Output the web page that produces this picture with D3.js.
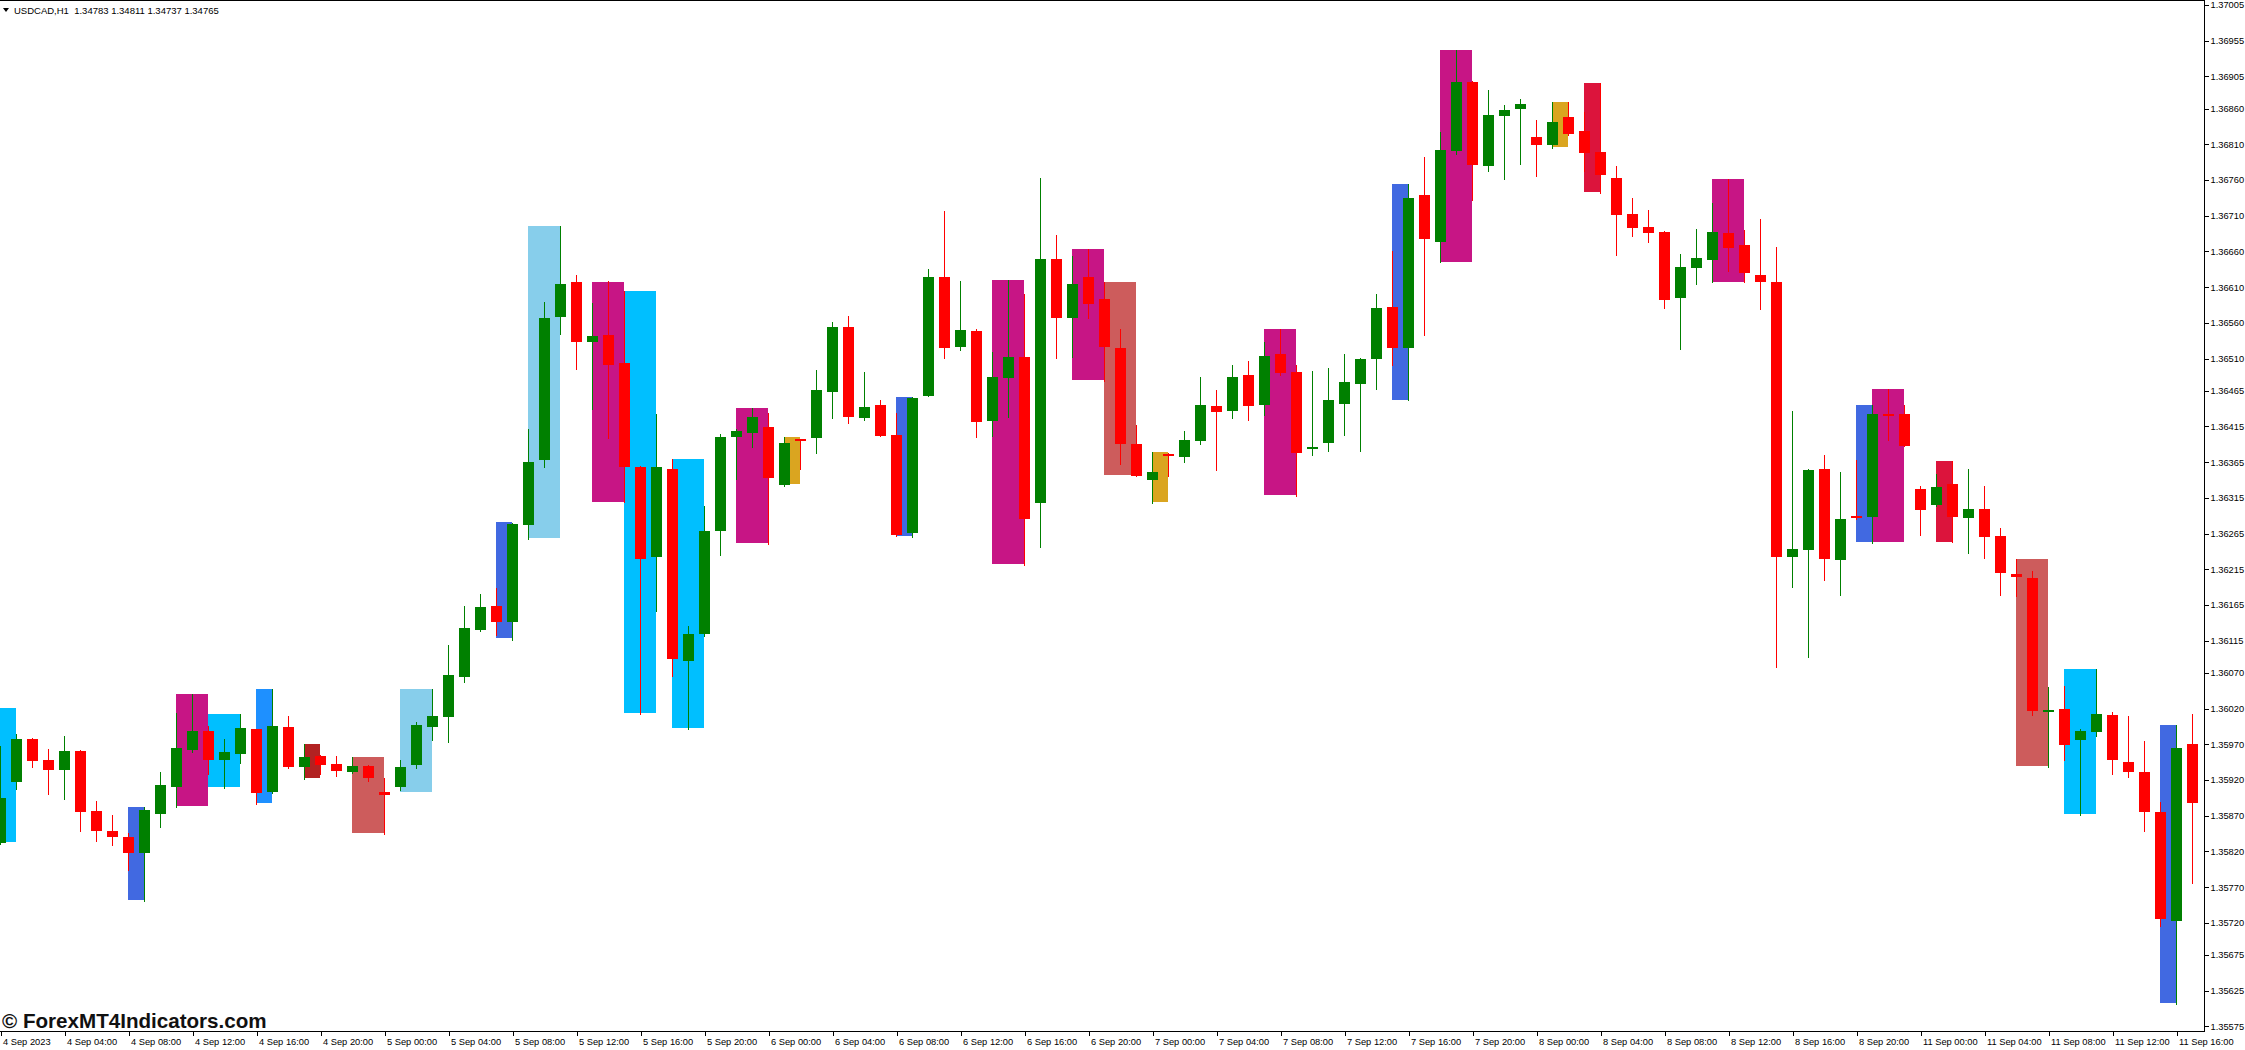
<!DOCTYPE html>
<html><head><meta charset="utf-8">
<script src="https://cdn.jsdelivr.net/npm/d3@7"></script>
<style>html,body{margin:0;padding:0;background:#fff;overflow:hidden}svg{display:block}</style>
</head><body>
<svg id="chart" width="2245" height="1050"></svg>
<script>
// ---- data (USDCAD H1, 4 Sep 2023 00:00 .. 11 Sep 2023 17:00) ----
const opens = [1.35832,1.35917,1.35977,1.35948,1.35934,1.35961,1.35877,1.35849,1.35840,1.35818,1.35872,1.35910,1.35962,1.35989,1.35948,1.35956,1.35991,1.35903,1.35994,1.35938,1.35954,1.35942,1.35931,1.35940,1.35903,1.35910,1.35941,1.35994,1.36008,1.36064,1.36130,1.36164,1.36141,1.36277,1.36368,1.36568,1.36617,1.36533,1.36543,1.36504,1.36358,1.36232,1.36355,1.36087,1.36124,1.36269,1.36400,1.36406,1.36414,1.36333,1.36397,1.36399,1.36463,1.36554,1.36427,1.36445,1.36403,1.36266,1.36458,1.36624,1.36526,1.36549,1.36423,1.36483,1.36512,1.36308,1.36649,1.36567,1.36624,1.36593,1.36525,1.36390,1.36340,1.36376,1.36372,1.36395,1.36444,1.36437,1.36487,1.36445,1.36516,1.36491,1.36385,1.36392,1.36446,1.36474,1.36509,1.36582,1.36525,1.36739,1.36673,1.36801,1.36897,1.36780,1.36850,1.36859,1.36820,1.36809,1.36848,1.36829,1.36799,1.36763,1.36712,1.36694,1.36687,1.36595,1.36637,1.36648,1.36686,1.36669,1.36627,1.36617,1.36232,1.36242,1.36355,1.36228,1.36290,1.36288,1.36432,1.36432,1.36327,1.36305,1.36334,1.36287,1.36299,1.36262,1.36208,1.36203,1.36015,1.36019,1.35976,1.35987,1.36011,1.35945,1.35931,1.35875,1.35723,1.35970];
const highs = [1.35968,1.35984,1.35979,1.35963,1.35982,1.35962,1.35891,1.35871,1.35846,1.35882,1.35931,1.36014,1.36040,1.35996,1.35977,1.36012,1.35992,1.36047,1.36010,1.35970,1.35955,1.35954,1.35952,1.35941,1.35923,1.35948,1.36001,1.36047,1.36109,1.36164,1.36180,1.36189,1.36280,1.36411,1.36589,1.36696,1.36627,1.36588,1.36618,1.36605,1.36359,1.36432,1.36369,1.36136,1.36304,1.36404,1.36411,1.36441,1.36434,1.36400,1.36398,1.36494,1.36561,1.36570,1.36491,1.36452,1.36434,1.36456,1.36635,1.36717,1.36619,1.36551,1.36519,1.36620,1.36600,1.36763,1.36683,1.36654,1.36663,1.36617,1.36551,1.36417,1.36379,1.36378,1.36409,1.36484,1.36466,1.36501,1.36507,1.36533,1.36551,1.36501,1.36493,1.36497,1.36516,1.36511,1.36600,1.36660,1.36754,1.36792,1.36827,1.36942,1.36899,1.36886,1.36865,1.36873,1.36844,1.36869,1.36869,1.36855,1.36896,1.36780,1.36735,1.36718,1.36689,1.36656,1.36691,1.36728,1.36761,1.36690,1.36705,1.36666,1.36437,1.36356,1.36375,1.36351,1.36368,1.36445,1.36467,1.36445,1.36332,1.36348,1.36367,1.36355,1.36332,1.36273,1.36229,1.36213,1.36050,1.36052,1.35992,1.36075,1.36015,1.36010,1.35975,1.35889,1.35997,1.36012];
const lows = [1.35831,1.35907,1.35938,1.35900,1.35893,1.35849,1.35835,1.35829,1.35794,1.35751,1.35854,1.35882,1.35959,1.35928,1.35909,1.35944,1.35886,1.35902,1.35937,1.35921,1.35928,1.35926,1.35930,1.35919,1.35844,1.35906,1.35937,1.35976,1.35973,1.36057,1.36129,1.36123,1.36116,1.36257,1.36358,1.36544,1.36495,1.36439,1.36399,1.36309,1.36012,1.36157,1.36066,1.35992,1.36122,1.36235,1.36341,1.36386,1.36250,1.36332,1.36355,1.36378,1.36427,1.36420,1.36424,1.36401,1.36262,1.36260,1.36457,1.36511,1.36522,1.36400,1.36402,1.36428,1.36221,1.36246,1.36511,1.36512,1.36567,1.36479,1.36362,1.36345,1.36308,1.36346,1.36365,1.36390,1.36354,1.36427,1.36424,1.36431,1.36487,1.36318,1.36375,1.36381,1.36403,1.36381,1.36467,1.36501,1.36452,1.36543,1.36645,1.36796,1.36732,1.36773,1.36761,1.36782,1.36766,1.36805,1.36823,1.36773,1.36742,1.36655,1.36682,1.36673,1.36581,1.36523,1.36614,1.36617,1.36633,1.36617,1.36579,1.36078,1.36190,1.36092,1.36200,1.36179,1.36286,1.36252,1.36396,1.36387,1.36263,1.36304,1.36253,1.36238,1.36231,1.36179,1.36178,1.36011,1.35938,1.35948,1.35871,1.35982,1.35928,1.35924,1.35849,1.35716,1.35606,1.35776];
const closes = [1.35895,1.35977,1.35947,1.35934,1.35961,1.35875,1.35849,1.35840,1.35818,1.35878,1.35913,1.35965,1.35989,1.35948,1.35959,1.35993,1.35902,1.35996,1.35938,1.35952,1.35941,1.35933,1.35940,1.35923,1.35899,1.35938,1.35997,1.36010,1.36067,1.36133,1.36162,1.36141,1.36279,1.36365,1.36567,1.36614,1.36533,1.36542,1.36501,1.36358,1.36229,1.36358,1.36089,1.36124,1.36269,1.36400,1.36409,1.36428,1.36343,1.36392,1.36395,1.36466,1.36554,1.36428,1.36442,1.36402,1.36263,1.36455,1.36624,1.36525,1.36550,1.36421,1.36484,1.36512,1.36285,1.36649,1.36567,1.36614,1.36586,1.36526,1.36390,1.36346,1.36351,1.36375,1.36396,1.36445,1.36435,1.36484,1.36444,1.36514,1.36490,1.36378,1.36386,1.36452,1.36477,1.36509,1.36581,1.36525,1.36735,1.36677,1.36802,1.36897,1.36781,1.36851,1.36858,1.36866,1.36809,1.36841,1.36824,1.36798,1.36767,1.36711,1.36693,1.36686,1.36592,1.36638,1.36651,1.36687,1.36665,1.36630,1.36617,1.36232,1.36243,1.36354,1.36229,1.36285,1.36287,1.36432,1.36430,1.36388,1.36298,1.36330,1.36288,1.36299,1.36260,1.36210,1.36204,1.36017,1.36018,1.35969,1.35989,1.36012,1.35948,1.35931,1.35875,1.35725,1.35965,1.35888];

// indicator rectangles (from bar index to bar index, price high/low)
const boxStart = [0,8,11,13,16,19,22,25,31,33,37,39,42,46,49,56,62,67,69,72,79,87,90,97,99,107,116,117,121,126,129,135];
const boxEnd   = [1,9,13,15,17,20,24,27,32,35,39,41,44,48,50,57,64,69,71,73,81,88,92,98,100,109,117,119,122,128,131,136];
const boxHigh  = [1.36021,1.35882,1.36040,1.36012,1.36047,1.35970,1.35952,1.36047,1.36281,1.36696,1.36617,1.36605,1.36369,1.36441,1.36400,1.36456,1.36620,1.36663,1.36617,1.36379,1.36551,1.36754,1.36942,1.36869,1.36896,1.36761,1.36445,1.36467,1.36367,1.36229,1.36075,1.35997];
const boxLow   = [1.35833,1.35752,1.35884,1.35910,1.35888,1.35923,1.35846,1.35903,1.36119,1.36259,1.36309,1.36014,1.35993,1.36252,1.36334,1.36262,1.36222,1.36480,1.36347,1.36309,1.36319,1.36452,1.36645,1.36806,1.36743,1.36617,1.36253,1.36253,1.36253,1.35940,1.35872,1.35608];
const boxColor = ["deepskyblue","royalblue","mediumvioletred","deepskyblue","dodgerblue","firebrick","indianred","skyblue","royalblue","skyblue","mediumvioletred","deepskyblue","deepskyblue","mediumvioletred","goldenrod","royalblue","mediumvioletred","mediumvioletred","indianred","goldenrod","mediumvioletred","royalblue","mediumvioletred","goldenrod","crimson","mediumvioletred","royalblue","mediumvioletred","crimson","indianred","deepskyblue","royalblue"];

const xTickLabels = ["4 Sep 2023","4 Sep 04:00","4 Sep 08:00","4 Sep 12:00","4 Sep 16:00","4 Sep 20:00","5 Sep 00:00","5 Sep 04:00","5 Sep 08:00","5 Sep 12:00","5 Sep 16:00","5 Sep 20:00","6 Sep 00:00","6 Sep 04:00","6 Sep 08:00","6 Sep 12:00","6 Sep 16:00","6 Sep 20:00","7 Sep 00:00","7 Sep 04:00","7 Sep 08:00","7 Sep 12:00","7 Sep 16:00","7 Sep 20:00","8 Sep 00:00","8 Sep 04:00","8 Sep 08:00","8 Sep 12:00","8 Sep 16:00","8 Sep 20:00","11 Sep 00:00","11 Sep 04:00","11 Sep 08:00","11 Sep 12:00","11 Sep 16:00"];
const yTickValues = [1.37005,1.36955,1.36905,1.36860,1.36810,1.36760,1.36710,1.36660,1.36610,1.36560,1.36510,1.36465,1.36415,1.36365,1.36315,1.36265,1.36215,1.36165,1.36115,1.36070,1.36020,1.35970,1.35920,1.35870,1.35820,1.35770,1.35720,1.35675,1.35625,1.35575];
const titleText = "USDCAD,H1  1.34783 1.34811 1.34737 1.34765";
const watermark = "\u00A9 ForexMT4Indicators.com";

// ---- layout ----
const plotRight = 2204, plotBottom = 1031;
const FONT = "'Liberation Sans', Arial, sans-serif";
const svg = d3.select("#chart").attr("shape-rendering", "crispEdges");

const x = d3.scaleLinear().domain([0, 137]).range([0, 2192]);
const y = d3.scaleLinear().domain([1.355686, 1.37012]).range([plotBottom, 0]);

svg.append("clipPath").attr("id", "plotclip").append("rect")
  .attr("x", 0).attr("y", 0).attr("width", plotRight).attr("height", plotBottom);
const plot = svg.append("g").attr("clip-path", "url(#plotclip)");

// indicator boxes
const boxes = boxStart.map((s, i) => ({s, e: boxEnd[i], h: boxHigh[i], l: boxLow[i], c: boxColor[i]}));
plot.append("g").selectAll("rect").data(boxes).join("rect")
  .attr("x", d => Math.round(x(d.s)))
  .attr("width", d => Math.round(x(d.e)) - Math.round(x(d.s)))
  .attr("y", d => Math.round(y(d.h)))
  .attr("height", d => Math.max(1, Math.round(y(d.l)) - Math.round(y(d.h))))
  .attr("fill", d => d.c);

// candles
const candles = opens.map((o, i) => ({i, o, h: highs[i], l: lows[i], c: closes[i]}));
const cg = plot.append("g");
const col = d => d.c >= d.o ? "#008000" : "#ff0000";
cg.selectAll("rect.wick").data(candles).join("rect").attr("class", "wick")
  .attr("x", d => Math.round(x(d.i)))
  .attr("width", 1)
  .attr("y", d => Math.round(y(d.h)))
  .attr("height", d => Math.max(1, Math.round(y(d.l)) - Math.round(y(d.h)) + 1))
  .attr("fill", col);
cg.selectAll("rect.body").data(candles).join("rect").attr("class", "body")
  .attr("x", d => Math.round(x(d.i)) - 5)
  .attr("width", 11)
  .attr("y", d => Math.round(y(Math.max(d.o, d.c))))
  .attr("height", d => Math.max(2, Math.round(y(Math.min(d.o, d.c))) - Math.round(y(Math.max(d.o, d.c)))))
  .attr("fill", col);

// frame
svg.append("line").attr("x1", 0).attr("x2", plotRight + 1).attr("y1", 0.5).attr("y2", 0.5).attr("stroke", "#000");
svg.append("line").attr("x1", 0).attr("x2", plotRight + 1).attr("y1", plotBottom + 0.5).attr("y2", plotBottom + 0.5).attr("stroke", "#000");
svg.append("line").attr("x1", plotRight + 0.5).attr("x2", plotRight + 0.5).attr("y1", 0).attr("y2", plotBottom + 1).attr("stroke", "#000");

// y axis (right)
const yAxis = d3.axisRight(y).tickValues(yTickValues).tickSize(4).tickSizeOuter(0).tickFormat(d3.format(".5f"));
const yg = svg.append("g").attr("transform", `translate(${plotRight + 0.5},0)`).call(yAxis);
yg.select(".domain").remove();
yg.selectAll("text").attr("font-family", FONT).attr("font-size", "9.3px").attr("fill", "#000").attr("x", 6);

// x axis (bottom)
const xIdx = xTickLabels.map((_, k) => k * 4);
const xAxis = d3.axisBottom(x).tickValues(xIdx).tickSize(4).tickSizeOuter(0).tickFormat((d, k) => xTickLabels[k]);
const xg = svg.append("g").attr("transform", `translate(0.5,${plotBottom + 0.5})`).call(xAxis);
xg.select(".domain").remove();
xg.selectAll("text").attr("font-family", FONT).attr("font-size", "9.3px").attr("fill", "#000")
  .attr("text-anchor", "start").attr("x", 2);

// title
svg.append("path").attr("d", "M3,8 L9,8 L6,12 Z").attr("fill", "#000").attr("shape-rendering", "auto");
svg.append("text").attr("x", 14).attr("y", 14).attr("font-family", FONT).attr("font-size", "9.5px")
  .attr("fill", "#000").attr("xml:space", "preserve").style("white-space", "pre").text(titleText);

// watermark
svg.append("text").attr("x", 2).attr("y", 1028).attr("font-family", FONT).attr("font-weight", "bold")
  .attr("font-size", "20.6px").attr("fill", "#111").text(watermark);
</script>
</body></html>
